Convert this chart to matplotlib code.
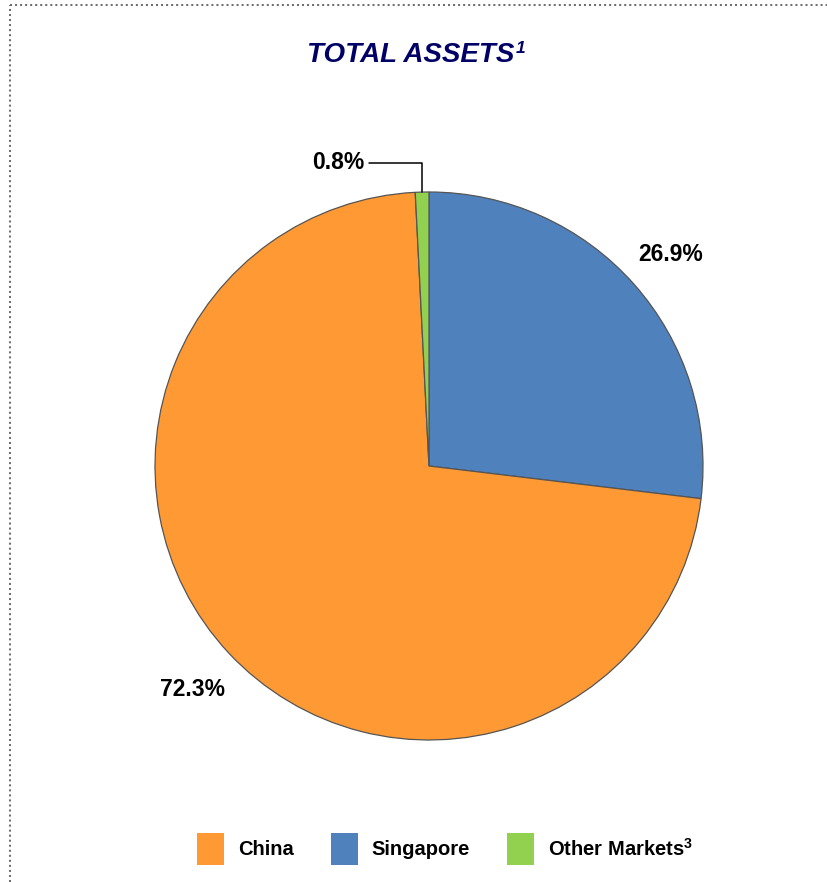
import numpy as np
import matplotlib
matplotlib.use("Agg")
import matplotlib.pyplot as plt
from matplotlib.lines import Line2D

plt.rcParams['font.family'] = ['Liberation Sans', 'DejaVu Sans']
plt.rcParams['mathtext.fontset'] = 'custom'
plt.rcParams['mathtext.rm'] = 'Liberation Sans:bold'
plt.rcParams['mathtext.bf'] = 'Liberation Sans:bold'

# data (pie drawn clockwise from 12 o'clock)
regions = ["Singapore", "China", "Other Markets"]
shares = [26.9, 72.3, 0.8]
colors = ["#4F81BD", "#FF9933", "#92D050"]
legend_order = ["China", "Singapore", "Other Markets"]
legend_labels = ["China", "Singapore", "Other Markets$^{3}$"]
title = "TOTAL ASSETS"
title_note = "1"

W, H = 828, 882
fig = plt.figure(figsize=(W / 100, H / 100), dpi=100)

# dotted frame (top and left visible)
frame_kw = dict(transform=fig.transFigure, color="#6e6e6e", lw=1.45, ls=(0, (1, 1.5)))
fig.add_artist(Line2D([10 / W, 10 / W], [0, 1 - 5 / H], **frame_kw))
fig.add_artist(Line2D([10 / W, 1], [1 - 5 / H, 1 - 5 / H], **frame_kw))

t = fig.text(411 / W, 1 - 55 / H, title, ha="center", va="center", fontsize=20,
             fontweight="bold", fontstyle="italic", color="#000066")
renderer = fig.canvas.get_renderer()
bb = t.get_window_extent(renderer)
fig.text((bb.x1 + 1) / W, (bb.y1 + 1) / H, title_note, ha="left", va="top",
         fontsize=12.5, fontweight="bold", fontstyle="italic", color="#000066")

cx, cy, r = 429, 466, 274
ax = fig.add_axes([(cx - r) / W, (H - cy - r) / H, 2 * r / W, 2 * r / H])
wedges, _ = ax.pie(shares, colors=colors, startangle=90, counterclock=False,
                   wedgeprops=dict(edgecolor="#555555", linewidth=0.9))
ax.set_xlim(-1, 1)
ax.set_ylim(-1, 1)
ax.axis("off")

for w, val in zip(wedges, shares):
    ang = np.deg2rad((w.theta1 + w.theta2) / 2)
    txt = f"{val:.1f}%"
    if val < 2:
        ax.annotate(txt, xy=(np.cos(ang), np.sin(ang)), xytext=(-0.235, 1.106),
                    ha="right", va="center", fontsize=16.5, fontweight="bold",
                    annotation_clip=False,
                    arrowprops=dict(arrowstyle="-", color="black", lw=1.1,
                                    relpos=(1, 0.5), shrinkA=1, shrinkB=0,
                                    connectionstyle="angle,angleA=0,angleB=90,rad=0"))
    else:
        d = 1.18
        ax.text(d * np.cos(ang), d * np.sin(ang) - 0.01, txt, ha="center", va="center",
                fontsize=16.5, fontweight="bold")

handles = [wedges[regions.index(n)] for n in legend_order]
leg = fig.legend(handles, legend_labels, loc="center", bbox_to_anchor=(445 / W, 1 - 849 / H),
                 ncol=3, frameon=False, handlelength=1.35, handleheight=2.0,
                 handletextpad=0.7, columnspacing=1.8,
                 prop=dict(weight="bold", size=14.5))
for p in leg.get_patches():
    p.set_edgecolor("none")

fig.savefig("out.png", dpi=100)
